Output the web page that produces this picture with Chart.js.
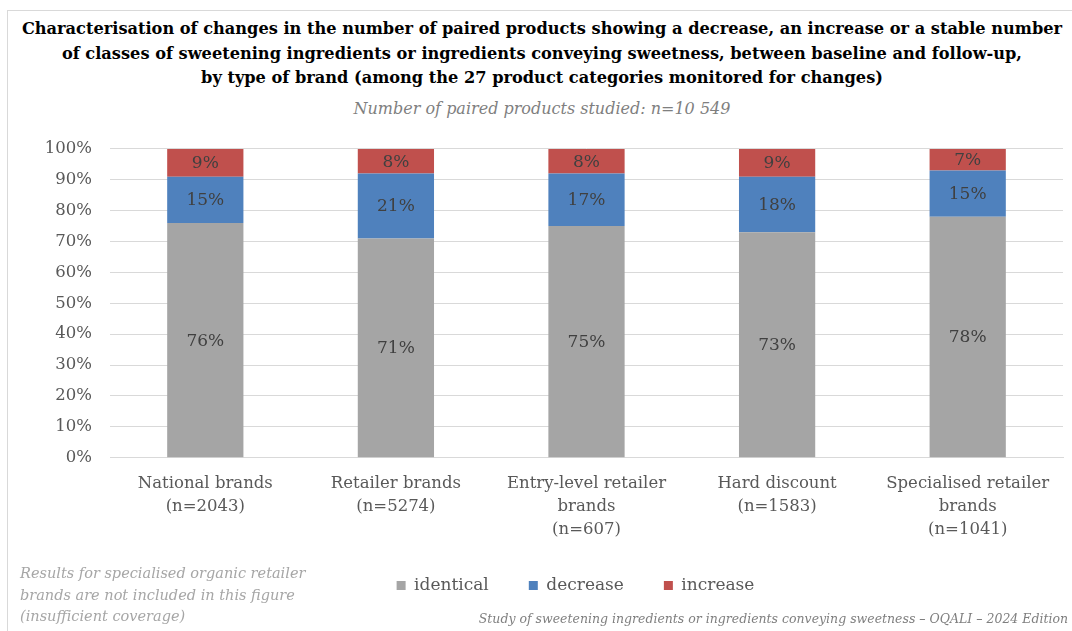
<!DOCTYPE html>
<html>
<head>
<meta charset="utf-8">
<script src="https://cdn.jsdelivr.net/npm/chart.js@4.4.1/dist/chart.umd.min.js"></script>
<style>
  body { margin: 0; width: 1072px; height: 631px; overflow: hidden; background: #fff; position: relative; font-family: "DejaVu Serif", serif; }
  #frame { position: absolute; left: 7px; top: 10px; width: 1100px; height: 700px; border-left: 1px solid #d9d9d9; border-top: 1px solid #d9d9d9; }
  #title { position: absolute; left: 0; width: 1084px; top: 17px; text-align: center; font-weight: bold; font-size: 16.2px; line-height: 24.5px; color: #000; }
  #subtitle { position: absolute; left: 0; width: 1084px; top: 99px; text-align: center; font-style: italic; font-size: 16px; color: #7f7f7f; }
  #note { position: absolute; left: 20px; top: 563px; font-style: italic; font-size: 14.5px; line-height: 21.5px; color: #a6a6a6; }
  #source { position: absolute; right: 4px; top: 611px; font-style: italic; font-size: 12.5px; color: #7f7f7f; }
  #wrap { position: absolute; left: 0; top: 121px; width: 1150px; height: 515px; }
</style>
</head>
<body>
<div id="frame"></div>
<div id="title">Characterisation of changes in the number of paired products showing a decrease, an increase or a stable number<br>of classes of sweetening ingredients or ingredients conveying sweetness, between baseline and follow-up,<br>by type of brand (among the 27 product categories monitored for changes)</div>
<div id="subtitle">Number of paired products studied: n=10 549</div>
<div id="wrap"><canvas id="myChart"></canvas></div>
<div id="note">Results for specialised organic retailer<br>brands are not included in this figure<br>(insufficient coverage)</div>
<div id="source">Study of sweetening ingredients or ingredients conveying sweetness – OQALI – 2024 Edition</div>
<script>
const brands = [
    ['National brands', '(n=2043)'],
    ['Retailer brands', '(n=5274)'],
    ['Entry-level retailer', 'brands', '(n=607)'],
    ['Hard discount', '(n=1583)'],
    ['Specialised retailer', 'brands', '(n=1041)']
];
const identical = [76, 71, 75, 73, 78];
const decrease = [15, 21, 17, 18, 15];
const increase = [9, 8, 8, 9, 7];
const yTicks = [0, 10, 20, 30, 40, 50, 60, 70, 80, 90, 100];

const FONT = '"DejaVu Serif", serif';

// draws the % in the middle of each bar piece
const barLabels = {
    id: 'barLabels',
    afterDatasetsDraw(chart) {
        const c = chart.ctx;
        c.save();
        c.font = '17px ' + FONT;
        c.fillStyle = '#404040';
        c.textAlign = 'center';
        c.textBaseline = 'middle';
        chart.data.datasets.forEach((ds, i) => {
            chart.getDatasetMeta(i).data.forEach((bar, j) => {
                const mid = (bar.y + bar.base) / 2;
                c.fillText(ds.data[j] + '%', bar.x, mid + 1);
            });
        });
        c.restore();
    }
};

// legend sits a bit right of the plot centre and a bit higher
const nudgeLegend = {
    id: 'nudgeLegend',
    afterLayout(chart) {
        const lg = chart.legend;
        lg.left += 44;
        lg.right += 44;
        lg.top -= 10;
        lg.bottom -= 10;
    }
};

const ctx = document.getElementById('myChart');
const stockChart = new Chart(ctx, {
    type: 'bar',
    data: {
        labels: brands,
        datasets: [
            { label: 'identical', data: identical, backgroundColor: '#a5a5a5' },
            { label: 'decrease', data: decrease, backgroundColor: '#4f81bd' },
            { label: 'increase', data: increase, backgroundColor: '#c0504d' }
        ]
    },
    options: {
        responsive: true,
        maintainAspectRatio: false,
        animation: false,
        layout: { padding: { top: 12, right: 87, bottom: 22, left: 0 } },
        datasets: { bar: { categoryPercentage: 1, barPercentage: 0.4 } },
        scales: {
            x: {
                stacked: true,
                grid: { display: false },
                border: { color: '#d9d9d9' },
                ticks: { color: '#595959', font: { family: FONT, size: 16.5, lineHeight: 1.4 }, padding: 6, maxRotation: 0, autoSkip: false }
            },
            y: {
                stacked: true,
                min: 0,
                max: 100,
                afterBuildTicks: (axis) => { axis.ticks = yTicks.map(v => ({ value: v })); },
                afterFit: (axis) => { axis.width = 110; },
                grid: { color: '#d9d9d9', drawTicks: false },
                border: { display: false },
                ticks: { color: '#595959', font: { family: FONT, size: 16.5 }, padding: 18, callback: v => v + '%' }
            }
        },
        plugins: {
            legend: {
                position: 'bottom',
                labels: { boxWidth: 9, boxHeight: 9, padding: 40, color: '#595959', font: { family: FONT, size: 17 } }
            },
            tooltip: { enabled: false }
        }
    },
    plugins: [barLabels, nudgeLegend]
});
</script>
</body>
</html>
